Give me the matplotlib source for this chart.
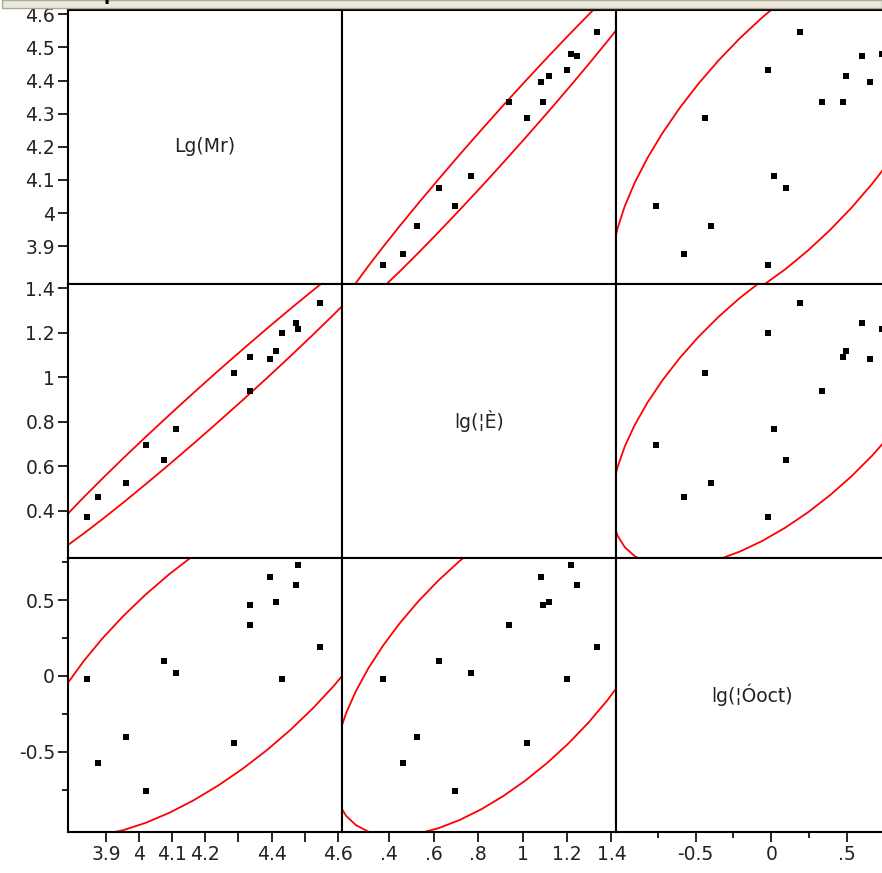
import numpy as np
import matplotlib
matplotlib.use('Agg')
import matplotlib.pyplot as plt
from matplotlib.patches import Rectangle

plt.rcParams['font.family'] = ['DejaVu Sans']

# variables (same order as the matrix rows/columns)
names = ['Lg(Mr)', 'lg(¦È)', 'lg(¦Óoct)']
lg_mr = [3.842, 3.877, 3.961, 4.022, 4.076, 4.112, 4.287, 4.335,
         4.335, 4.396, 4.413, 4.431, 4.473, 4.479, 4.546]
lg_theta = [0.374, 0.463, 0.526, 0.697, 0.626, 0.769, 1.020, 1.092,
            0.939, 1.083, 1.119, 1.200, 1.244, 1.217, 1.334]
lg_toct = [-0.02, -0.575, -0.40, -0.76, 0.10, 0.02, -0.44, 0.47,
           0.335, 0.65, 0.49, -0.02, 0.60, 0.73, 0.19]

# axis ranges and tick labels
limits = [(3.786, 4.613), (0.188, 1.418), (-1.029, 0.777)]
major_ticks = [[3.9, 4.0, 4.1, 4.2, 4.3, 4.4, 4.5, 4.6],
               [0.4, 0.6, 0.8, 1.0, 1.2, 1.4],
               [-0.5, 0.0, 0.5]]
minor_ticks = [[], [], [-0.75, -0.25, 0.25, 0.75]]
y_labels = [['3.9', '4', '4.1', '4.2', '4.3', '4.4', '4.5', '4.6'],
            ['0.4', '0.6', '0.8', '1', '1.2', '1.4'],
            ['-0.5', '0', '0.5']]
x_labels = [['3.9', '4', '4.1', '4.2', '', '4.4', '', '4.6'],
            ['.4', '.6', '.8', '1', '1.2', '1.4'],
            ['-0.5', '0', '.5']]

data = [np.array(lg_mr), np.array(lg_theta), np.array(lg_toct)]

W, H = 882, 873
col_edges = [68.3, 342, 615.5, 889]
row_edges = [10, 284, 558, 832]


def density_ellipse(x, y, c=np.sqrt(5.991), n=48):
    # 95% bivariate normal density ellipse
    xy = np.vstack([x, y])
    m = xy.mean(axis=1)
    L = np.linalg.cholesky(np.cov(xy))
    t = np.linspace(0, 2*np.pi, n + 1)
    return m[:, None] + c * L @ np.vstack([np.cos(t), np.sin(t)])


fig = plt.figure(figsize=(W/100, H/100), dpi=100)

for i in range(3):
    for j in range(3):
        x0 = col_edges[j]
        x1 = col_edges[j+1]
        y0 = row_edges[i]
        y1 = row_edges[i+1]
        ax = fig.add_axes([x0/W, 1 - y1/H, (x1 - x0)/W, (y1 - y0)/H])
        ax.set_xlim(limits[j])
        ax.set_ylim(limits[i])
        for s in ax.spines.values():
            s.set_linewidth(1.5)
            s.set_color('black')

        if i == j:
            ax.text(0.5, 0.5, names[i], transform=ax.transAxes,
                    ha='center', va='center', fontsize=13.5, color='#222222')
        else:
            e = density_ellipse(data[j], data[i])
            ax.plot(e[0], e[1], color='red', lw=1.3)
            ax.plot(data[j], data[i], 's', color='black', ms=4.2, mew=0)

        ax.set_xticks(major_ticks[j])
        ax.set_xticks(minor_ticks[j], minor=True)
        ax.set_yticks(major_ticks[i])
        ax.set_yticks(minor_ticks[i], minor=True)
        ax.tick_params(which='major', length=7.5, width=1.2, labelsize=13.5,
                       labelcolor='#222222', pad=2)
        ax.tick_params(which='minor', length=4, width=1.2)
        if j == 0:
            ax.set_yticklabels(y_labels[i])
        else:
            ax.tick_params(axis='y', which='both', left=False, labelleft=False)
        if i == 2:
            ax.set_xticklabels(x_labels[j])
        else:
            ax.tick_params(axis='x', which='both', bottom=False, labelbottom=False)

# report header strip at the top (title sits mostly above the visible area)
fig.patches.append(Rectangle((2/W, 1 - 7.5/H), (W - 2)/W, 8/H,
                             transform=fig.transFigure, facecolor='#ECE9D8',
                             edgecolor='#A8A8A0', lw=1, zorder=5))
fig.text(30/W, 1.0, 'Scatterplot Matrix', fontsize=13, fontweight='bold',
         va='baseline', ha='left', color='black', zorder=6)

fig.savefig('out.png', dpi=100)
